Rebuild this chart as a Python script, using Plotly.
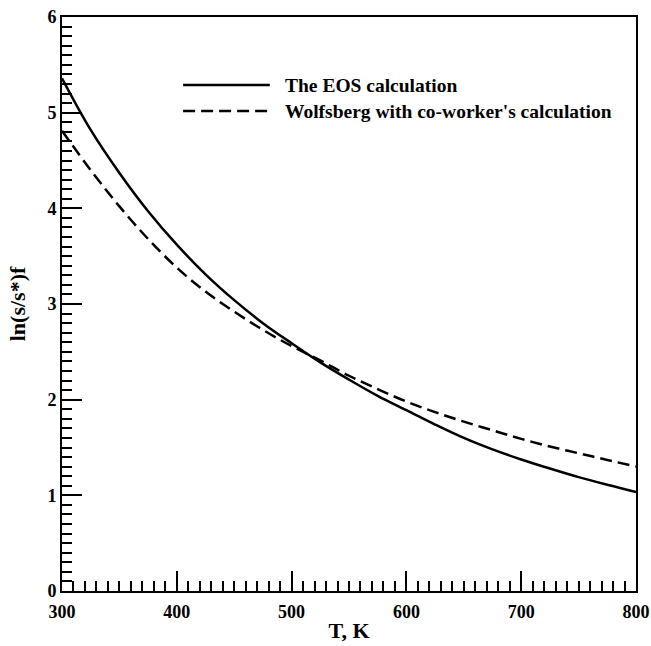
import plotly.graph_objects as go

# Temperature (K)
T = [300, 325, 350, 375, 400, 425, 450, 475, 500, 525, 550, 575, 600,
     625, 650, 675, 700, 725, 750, 775, 800]
# The EOS calculation
eos = [5.36, 4.82, 4.37, 3.97, 3.62, 3.31, 3.04, 2.80, 2.59, 2.39, 2.21, 2.04, 1.89,
       1.74, 1.60, 1.48, 1.375, 1.28, 1.19, 1.11, 1.035]
# Wolfsberg with co-worker's calculation
wolf = [4.81, 4.40, 4.02, 3.68, 3.38, 3.13, 2.92, 2.73, 2.56, 2.41, 2.25, 2.11, 1.98,
        1.87, 1.77, 1.68, 1.59, 1.51, 1.44, 1.37, 1.30]

names = ["The EOS calculation", "Wolfsberg with co-worker's calculation"]
x_ticks = [300, 400, 500, 600, 700, 800]
y_ticks = [0, 1, 2, 3, 4, 5, 6]

FONT = "Liberation Serif, Times New Roman, serif"
dash = "12px,6px"

fig = go.Figure()
fig.add_trace(go.Scatter(x=T, y=eos, mode="lines", name=names[0],
                         line=dict(color="black", width=2.5, shape="spline")))
fig.add_trace(go.Scatter(x=T, y=wolf, mode="lines", name=names[1],
                         line=dict(color="black", width=2.5, dash=dash, shape="spline")))

axis_common = dict(
    showline=True, linecolor="black", linewidth=2, mirror=True,
    showgrid=False, zeroline=False, automargin=False,
    ticks="inside", ticklen=20, tickwidth=2, tickcolor="black",
    tickfont=dict(family=FONT, size=18, color="black", weight="bold"),
)

fig.update_xaxes(
    range=[300, 800], tickvals=x_ticks, ticktext=[str(v) for v in x_ticks],
    minor=dict(dtick=10, ticks="inside", ticklen=10, tickwidth=2, tickcolor="black", showgrid=False),
    ticklabelstandoff=3,
    title=dict(text="T, K", font=dict(family=FONT, size=22, color="black", weight="bold"), standoff=2),
    **axis_common,
)
fig.update_yaxes(
    range=[0, 6], tickvals=y_ticks, ticktext=[str(v) for v in y_ticks],
    minor=dict(dtick=0.1, ticks="inside", ticklen=10, tickwidth=2, tickcolor="black", showgrid=False),
    title=dict(text="ln(s/s*)f", font=dict(family=FONT, size=22, color="black", weight="bold"), standoff=16),
    **axis_common,
)

# manual legend (long line samples as in the original)
leg_rows = [(0.8815, "solid"), (0.8362, dash)]
for (yy, ds), nm in zip(leg_rows, names):
    fig.add_shape(type="line", xref="paper", yref="paper",
                  x0=0.211, x1=0.362, y0=yy, y1=yy,
                  line=dict(color="black", width=2.5, dash=ds))
    fig.add_annotation(xref="paper", yref="paper", x=0.385, y=yy, text=nm,
                       showarrow=False, xanchor="left", yanchor="middle",
                       font=dict(family=FONT, size=19.5, color="black", weight="bold"))

fig.update_layout(
    width=651, height=646,
    margin=dict(l=62, r=15, t=17, b=55, autoexpand=False),
    paper_bgcolor="white", plot_bgcolor="white",
    showlegend=False,
)

fig.write_html("out.html")
